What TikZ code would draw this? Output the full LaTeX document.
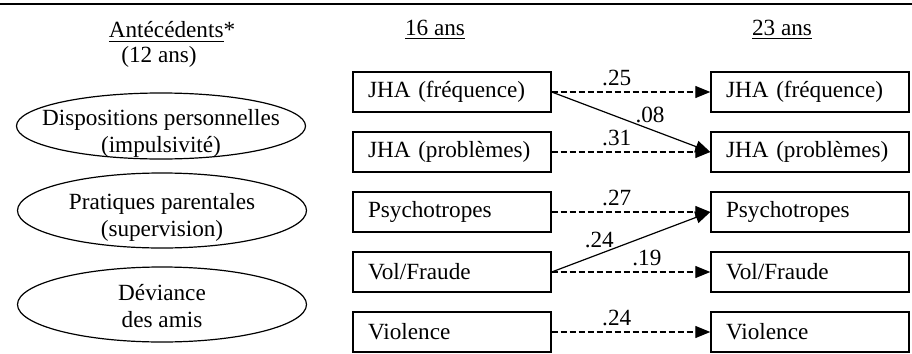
\documentclass[tikz,border=0pt]{standalone}
\usepackage{fontspec}
\setmainfont{Liberation Serif}
\usetikzlibrary{arrows.meta,shapes.geometric}

% two centred lines that do not widen the ellipse (#1 = drop)
\newcommand{\twolines}[3][6.5pt]{\makebox[0pt]{\raisebox{-#1}[0pt][0pt]{\begin{tabular}{@{}c@{}}#2\\#3\end{tabular}}}}

\begin{document}
\begin{tikzpicture}[x=0.5pt,y=-0.5pt,
  font=\fontsize{11.6}{13.5}\selectfont,
  var/.style={draw,line width=0.7pt,rectangle,minimum width=99pt,minimum height=20pt,
    inner xsep=7.5pt,text width=84pt,align=left},
  latent/.style={draw,line width=0.6pt,ellipse,minimum width=144.5pt,minimum height=37.5pt,
    inner sep=0pt},
  path/.style={-{Triangle[length=7.5pt,width=6pt]},line width=0.6pt},
  weak/.style={path,dash pattern=on 3pt off 1.5pt},
  coef/.style={above=2pt,inner sep=1pt}]
\useasboundingbox (0,0) rectangle (912,354);

% Rule
\draw[line width=1pt] (0,4) -- (912,4);

% Headers
\node (hant) at (172,32) {\underline{Antécédents}*};
\node (hage) at (159,57) {(12 ans)};
\node (h16) at (435,30) {\underline{16 ans}};
\node (h23) at (782,30) {\underline{23 ans}};

% Antecedents
\node[latent,minimum height=33pt] (disp) at (161,126) {\twolines[6.9pt]{Dispositions personnelles}{(impulsivité)}};
\node[latent] (prat) at (162,210.5) {\twolines[6.6pt]{Pratiques parentales}{(supervision)}};
\node[latent] (devi) at (162,304.5) {\twolines[5.2pt]{Déviance}{des amis}};

% 16 ans
\node[var] (freqa) at (452,92) {JHA (fréquence)};
\node[var] (proba) at (452,152) {JHA (problèmes)};
\node[var] (psya) at (452,212) {Psychotropes};
\node[var] (vola) at (452,272) {Vol/Fraude};
\node[var] (viola) at (452,332) {Violence};

% 23 ans
\node[var] (freqb) at (810,92) {JHA (fréquence)};
\node[var] (probb) at (810,152) {JHA (problèmes)};
\node[var] (psyb) at (810,212) {Psychotropes};
\node[var] (volb) at (810,272) {Vol/Fraude};
\node[var] (violb) at (810,332) {Violence};

% Paths
\draw[weak] (freqa) -- node[coef,pos=.41] {.25} (freqb);
\draw[path] (freqa.east) -- node[coef,pos=.62] {.08} (probb.west);
\draw[weak] (proba) -- node[coef,pos=.41] {.31} (probb);
\draw[weak] (psya) -- node[coef,pos=.41] {.27} (psyb);
\draw[path] (vola.east) -- node[coef,pos=.3] {.24} (psyb.west);
\draw[weak] (vola) -- node[coef,pos=.6] {.19} (volb);
\draw[weak] (viola) -- node[coef,pos=.41] {.24} (violb);
\end{tikzpicture}
\end{document}
